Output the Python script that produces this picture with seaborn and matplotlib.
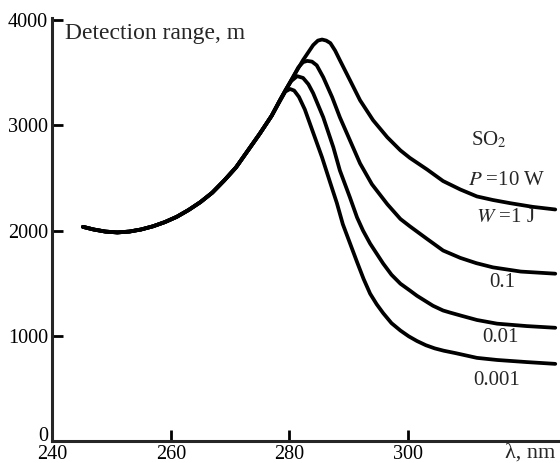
import numpy as np
import pandas as pd
import seaborn as sns
import matplotlib.pyplot as plt

# shared rising branch (nm, m)
rise_x = [245.2, 247, 249, 251, 253, 255, 257, 259, 261, 263, 265, 267, 269, 271, 273, 275, 277, 278.4]
rise_y = [2035, 2010, 1990, 1982, 1990, 2010, 2040, 2080, 2130, 2195, 2270, 2360, 2475, 2600, 2760, 2920, 3090, 3238]

# falling branches, one per pulse energy
e0001_x = [278.4, 279.3, 280.1, 280.8, 281.6, 282.6, 284.0, 285.5, 286.9, 288.0, 289.0, 290.2, 291.4, 292.5,
           293.6, 294.7, 295.8, 297.2, 298.7, 300.1, 301.5, 303.0, 304.5, 306.0, 308.0, 311.6, 315.0, 320.0, 324.8]
e0001_y = [3230, 3320, 3345, 3330, 3270, 3150, 2930, 2695, 2450, 2260, 2060, 1880, 1700, 1540,
           1400, 1300, 1215, 1120, 1050, 995, 950, 910, 880, 858, 835, 790, 770, 750, 733]

e001_x = [279.4, 280.3, 281.3, 282.3, 283.2, 284.0, 285.7, 287.4, 288.5, 290.2, 291.4, 292.4, 293.6, 295.8,
          297.2, 298.7, 300.3, 301.5, 303.2, 304.2, 305.9, 307.1, 309.0, 311.6, 315.0, 320.0, 324.8]
e001_y = [3340, 3420, 3467, 3450, 3390, 3305, 3076, 2791, 2571, 2314, 2124, 2000, 1876, 1686,
          1580, 1495, 1430, 1380, 1320, 1285, 1240, 1220, 1190, 1150, 1115, 1092, 1076]

e01_x = [280.6, 281.5, 282.3, 283.0, 283.8, 284.6, 285.7, 287.2, 288.5, 290.2, 291.9, 293.9, 296.5, 298.7,
         300.3, 303.2, 305.9, 308.8, 311.5, 314.3, 319.0, 324.8]
e01_y = [3457, 3550, 3600, 3612, 3605, 3570, 3457, 3267, 3076, 2857, 2638, 2440, 2250, 2110,
         2040, 1920, 1810, 1740, 1690, 1650, 1610, 1590]

e1_x = [280.6, 282.3, 284.0, 284.8, 285.5, 286.2, 286.9, 287.7, 288.5, 290.2, 291.9, 294.1, 296.5, 298.7,
        300.3, 303.2, 305.9, 308.8, 311.6, 314.3, 317.2, 321.0, 324.8]
e1_y = [3457, 3620, 3762, 3805, 3815, 3805, 3781, 3710, 3619, 3429, 3238, 3048, 2886, 2762,
        2690, 2580, 2470, 2390, 2324, 2290, 2260, 2225, 2200]

energies = ["1 J", "0.1", "0.01", "0.001"]
tails = {"1 J": (e1_x, e1_y), "0.1": (e01_x, e01_y), "0.01": (e001_x, e001_y), "0.001": (e0001_x, e0001_y)}

frames = []
for name in energies:
    tx, ty = tails[name]
    cut = 17 if name == "0.001" else 18  # 0.001 branch leaves the common curve a bit earlier
    frames.append(pd.DataFrame({"wavelength": rise_x[:cut] + tx,
                                "range": rise_y[:cut] + ty,
                                "energy": name}))
df = pd.concat(frames, ignore_index=True)

sns.set_style("ticks")
plt.rcParams['font.family'] = ['Liberation Serif', 'DejaVu Serif']
plt.rcParams['mathtext.fontset'] = 'stix'

fig = plt.figure(figsize=(5.6, 4.63), dpi=100)
ax = fig.add_axes([0.093, 0.0475, 0.907, 0.9135])

sns.lineplot(data=df, x="wavelength", y="range", hue="energy", palette=["black"] * 4,
             sort=False, estimator=None, legend=False, linewidth=2.7, ax=ax)

ax.set_xlim(240, 325.6)
ax.set_ylim(0, 4019)
ax.set_xticks([240, 260, 280, 300])
ax.set_yticks([0, 1000, 2000, 3000, 4000])
ax.set_xlabel("")
ax.set_ylabel("")
sns.despine(ax=ax)
for s in ["left", "bottom"]:
    ax.spines[s].set_linewidth(2.2)
ax.tick_params(direction="in", length=8, width=2, labelsize=14.5, pad=3, colors="black")
# the "0" sits on the x axis line, as in the original
ax.get_yticklabels()[0].set_verticalalignment("baseline")

ax.text(242.2, 3876, "Detection range, m", fontsize=17, ha="left", va="center")
ax.text(313.6, 2857, "SO$_2$", fontsize=15, ha="center", va="center")
ax.text(316.7, 2476, "$P$ =10 W", fontsize=15, ha="center", va="center")
ax.text(316.4, 2120, "$W$ =1 J", fontsize=15, ha="center", va="center")
ax.text(315.8, 1505, "0.1", fontsize=15, ha="center", va="center")
ax.text(315.5, 981, "0.01", fontsize=15, ha="center", va="center")
ax.text(315.0, 571, "0.001", fontsize=15, ha="center", va="center")
ax.text(320.6, -114, "λ, nm", fontsize=16, ha="center", va="center", clip_on=False)

fig.savefig("out.png", dpi=100)
